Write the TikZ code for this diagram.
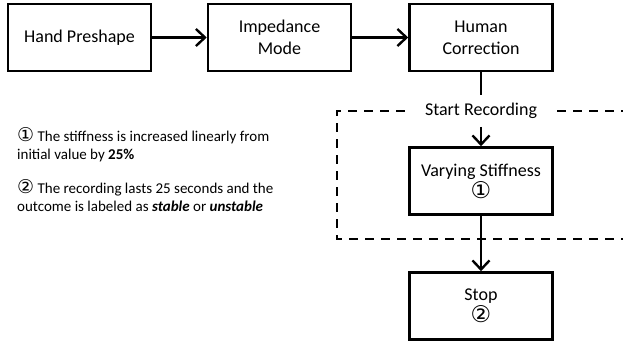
\documentclass[tikz,border=0pt]{standalone}
\usepackage{fontspec}
\setmainfont{Carlito}
\newfontfamily\circfont{DejaVu Sans}
\usetikzlibrary{arrows.meta}
\newcommand\cnumbig[1]{{\circfont\fontsize{23}{22}\selectfont #1}}
\newcommand\cnumsmall[1]{{\circfont\fontsize{19}{18}\selectfont\raisebox{-0.5pt}{#1}}}
\begin{document}
\begin{tikzpicture}[x=1pt,y=-1pt,
  box/.style={draw, line width=2.6pt, minimum width=143pt, minimum height=67pt,
    inner sep=0pt, align=center, font=\fontsize{18}{22}\selectfont},
  flow/.style={line width=2.4pt, -{Straight Barb[length=9pt,width=17pt]}},
  plainline/.style={line width=2.4pt},
  note/.style={anchor=base west, inner sep=0pt, font=\fontsize{15}{18}\selectfont},
  frame/.style={line width=1.8pt, dash pattern=on 9pt off 7pt}]
\useasboundingbox (0,0) rectangle (623,343);

\node[box] (hand) at (79.5,37.5) {Hand Preshape};
\node[box] (imp) at (279.5,37.5) {Impedance\\Mode};
\node[box] (hum) at (481,37.5) {Human\\Correction};
\node[inner xsep=20pt, inner ysep=8pt, font=\fontsize{18}{22}\selectfont] (rec) at (481,111) {Start Recording};
\node[box] (var) at (481,181) {Varying Stiffness\\\cnumbig{①}};
\node[box] (stop) at (481,306) {Stop\\\cnumbig{②}};

\draw[flow] (hand) -- (imp);
\draw[flow] (imp) -- (hum);
\draw[plainline] (hum) -- (rec);
\draw[flow] (rec) -- (var);
\draw[flow] (var) -- (stop);

\draw[frame] (rec.west) -| (337,239) -- (623,239);
\draw[frame] (rec.east) -- (623,111);

\node[note] (n1a) at (17,141) {\cnumsmall{①} The stiffness is increased linearly from};
\node[note] (n1b) at (17,159) {initial value by \textbf{25\%}};
\node[note] (n2a) at (17,193) {\cnumsmall{②} The recording lasts 25 seconds and the};
\node[note] (n2b) at (17,211) {outcome is labeled as \textbf{\textit{stable}} or \textbf{\textit{unstable}}};
\end{tikzpicture}
\end{document}
